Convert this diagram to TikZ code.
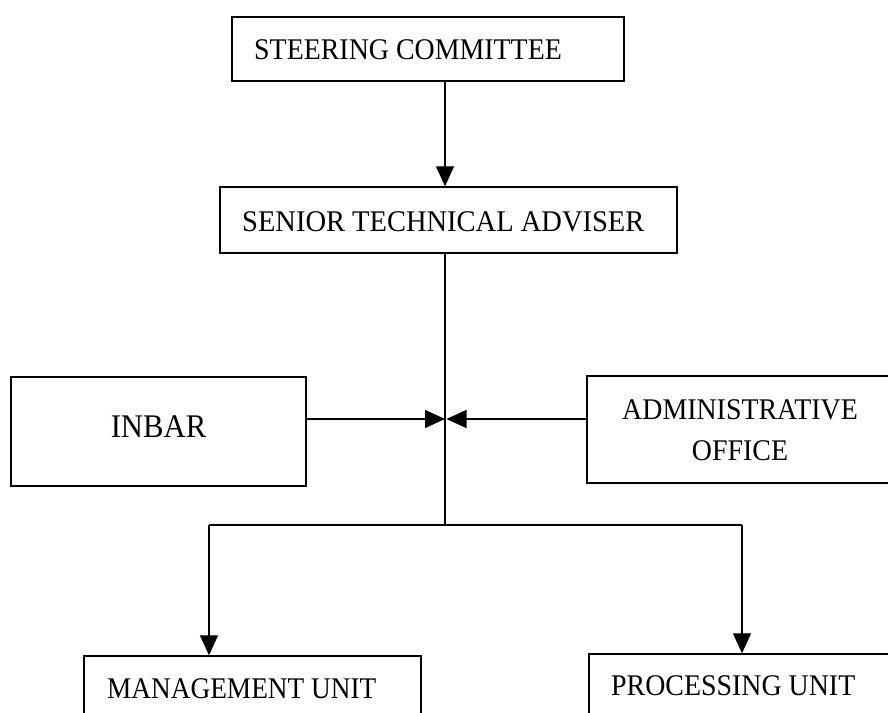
\documentclass[tikz,border=0pt]{standalone}
\usepackage{fontspec}
\setmainfont{Liberation Serif}
\usetikzlibrary{arrows.meta}
\newcommand{\sqz}[1]{\scalebox{0.93}[1]{#1}}
\tikzset{
  box/.style={draw, line width=1.4pt, inner sep=0pt, rectangle},
  lbl/.style={inner sep=0pt, font=\fontsize{30}{41}\selectfont},
  big/.style={inner sep=0pt, font=\fontsize{33}{41}\selectfont},
  conn/.style={line width=1.3pt},
  arr/.style={conn, -{Triangle[length=20pt, width=18pt]}}
}
\begin{document}
\begin{tikzpicture}[x=1pt, y=-1pt]
\useasboundingbox (0,0) rectangle (888,712);
% boxes
\node[box, minimum width=392pt, minimum height=64pt] (steer) at (428,49) {};
\node[box, minimum width=457pt, minimum height=66pt] (senior) at (448.5,220) {};
\node[box, minimum width=295pt, minimum height=109pt] (inbar) at (158.5,431.5) {};
\node[box, minimum width=313pt, minimum height=107pt] (admin) at (743.5,429.5) {};
\node[box, minimum width=337pt, minimum height=80pt] (mgmt) at (252.5,696) {};
\node[box, minimum width=311pt, minimum height=80pt] (proc) at (744.5,694) {};
% texts
\node[lbl, anchor=west] (tsteer) at (254,50) {\sqz{STEERING COMMITTEE}};
\node[lbl, anchor=west] (tsenior) at (242,222) {\scalebox{0.95}[1]{SENIOR TECHNICAL ADVISER}};
\node[big] (tinbar) at (158.5,427) {\sqz{INBAR}};
\node[lbl, align=center] (tadmin) at (740,430) {\sqz{ADMINISTRATIVE}\\\sqz{OFFICE}};
\node[lbl, anchor=west] (tmgmt) at (107,689) {\scalebox{0.91}[1]{MANAGEMENT UNIT}};
\node[lbl, anchor=west] (tproc) at (611,686) {\sqz{PROCESSING UNIT}};
% junction coordinates
\coordinate (j) at (445,419);
\coordinate (b) at (445,525);
\coordinate (bl) at (209,525);
\coordinate (br) at (742,525);
% connectors
\draw[arr] (steer.south -| j) -- (senior.north -| j);
\draw[conn] (senior.south -| j) -- (b);
\draw[arr] (inbar.east |- j) -- (j);
\draw[arr] (admin.west |- j) -- ([xshift=1.5pt]j);
\draw[conn] (bl) -- (br);
\draw[arr] (bl) -- (mgmt.north -| bl);
\draw[arr] (br) -- (proc.north -| br);
\end{tikzpicture}
\end{document}
